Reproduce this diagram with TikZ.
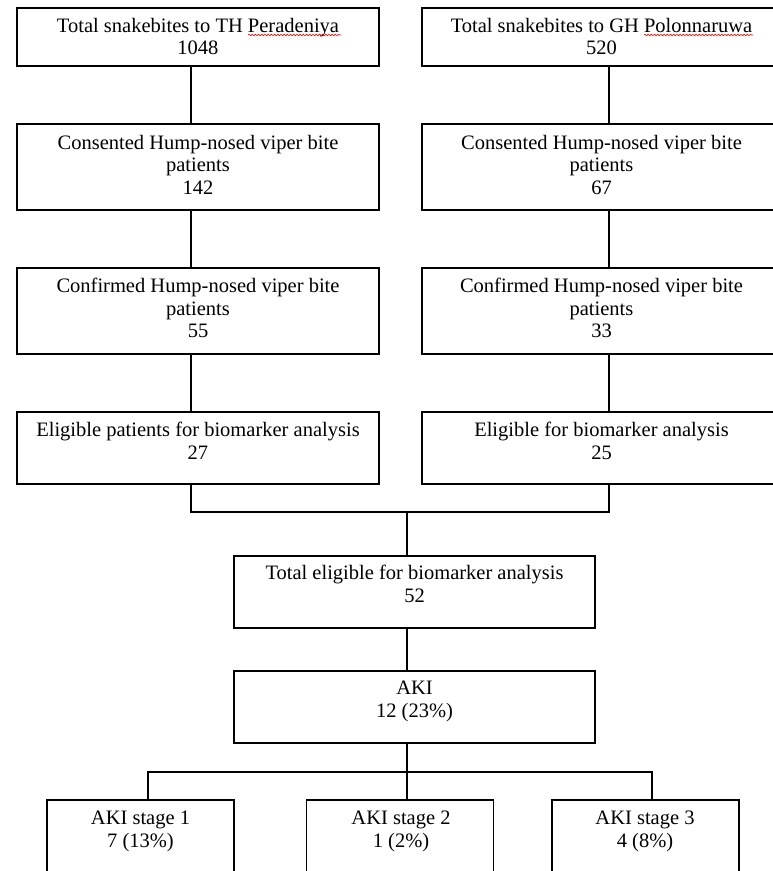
\documentclass[tikz,border=0pt]{standalone}
\usepackage{fontspec}
\setmainfont{Liberation Serif}
\usetikzlibrary{decorations.pathmorphing}
\begin{document}
\begin{tikzpicture}[x=1pt,y=-1pt,
  box/.style={draw=black, line width=1.2pt, rectangle, inner sep=0pt},
  lbox/.style={box, minimum width=362pt},
  rbox/.style={box, minimum width=359pt},
  cbox/.style={box, minimum width=361pt, minimum height=72pt},
  sbox/.style={box, minimum width=187pt, minimum height=90pt},
  txt/.style={align=center, inner sep=0pt, font=\fontsize{20.5pt}{22.5pt}\selectfont},
  link/.style={draw=black, line width=1.2pt},
  spell/.style={draw=red, line width=0.6pt, decorate, decoration={snake, segment length=3.2pt, amplitude=0.8pt}}]
\useasboundingbox[fill=white] (0,0) rectangle (773,871);

% column coordinates for connectors
\coordinate (xl) at (191,0);
\coordinate (xr) at (609,0);
\coordinate (xc) at (407,0);

% left column
\node[lbox, minimum height=58pt] (a1) at (198,37) {};
\node[lbox, minimum height=86pt] (a2) at (198,167) {};
\node[lbox, minimum height=86pt] (a3) at (198,311) {};
\node[lbox, minimum height=72pt] (a4) at (198,448) {};
\node[txt] (ta1) at (198,36.5) {Total snakebites to TH Peradeniya\\1048};
\node[txt] (ta2) at (198,164.5) {Consented Hump-nosed viper bite\\patients\\142};
\node[txt] (ta3) at (198,308) {Confirmed Hump-nosed viper bite\\patients\\55};
\node[txt] (ta4) at (198,441) {Eligible patients for biomarker analysis\\27};

% right column
\node[rbox, minimum height=58pt] (b1) at (601.5,37) {};
\node[rbox, minimum height=86pt] (b2) at (601.5,167) {};
\node[rbox, minimum height=86pt] (b3) at (601.5,311) {};
\node[rbox, minimum height=72pt] (b4) at (601.5,448) {};
\node[txt] (tb1) at (601.5,36.5) {Total snakebites to GH Polonnaruwa\\520};
\node[txt] (tb2) at (601.5,164.5) {Consented Hump-nosed viper bite\\patients\\67};
\node[txt] (tb3) at (601.5,308) {Confirmed Hump-nosed viper bite\\patients\\33};
\node[txt] (tb4) at (601.5,441) {Eligible for biomarker analysis\\25};

% centre
\node[cbox] (tot) at (414.5,592) {};
\node[txt] (ttot) at (414.5,584) {Total eligible for biomarker analysis\\52};
\node[cbox] (aki) at (414.5,707) {};
\node[txt] (taki) at (414.5,701.5) {AKI\\12 (23\%)};

% stages
\node[sbox] (s1) at (140.5,845) {};
\node[sbox] (s2) at (400,845) {};
\node[sbox] (s3) at (645.5,845) {};
\node[txt] (ts1) at (140.5,831.5) {AKI stage 1\\7 (13\%)};
\node[txt] (ts2) at (401,831.5) {AKI stage 2\\1 (2\%)};
\node[txt] (ts3) at (645,831.5) {AKI stage 3\\4 (8\%)};

% spell-check underlines
\coordinate (u1a) at (248,35);
\coordinate (u1b) at (341,35);
\coordinate (u2a) at (644,35);
\coordinate (u2b) at (753,35);
\draw[spell] (u1a) -- (u1b);
\draw[spell] (u2a) -- (u2b);

% vertical links
\draw[link] (a1.south -| xl) -- (a2.north -| xl);
\draw[link] (a2.south -| xl) -- (a3.north -| xl);
\draw[link] (a3.south -| xl) -- (a4.north -| xl);
\draw[link] (b1.south -| xr) -- (b2.north -| xr);
\draw[link] (b2.south -| xr) -- (b3.north -| xr);
\draw[link] (b3.south -| xr) -- (b4.north -| xr);

% join
\coordinate (jl) at (191,512);
\coordinate (jr) at (609,512);
\draw[link] (a4.south -| jl) -- (jl) -- (jr) -- (b4.south -| jr);
\draw[link] (jl -| xc) -- (tot.north -| xc);
\draw[link] (tot.south -| xc) -- (aki.north -| xc);

% branch to stages
\coordinate (bl) at (148,772);
\coordinate (br) at (652,772);
\draw[link] (aki.south -| xc) -- (s2.north -| xc);
\draw[link] (s1.north -| bl) -- (bl) -- (br) -- (s3.north -| br);
\end{tikzpicture}
\end{document}
